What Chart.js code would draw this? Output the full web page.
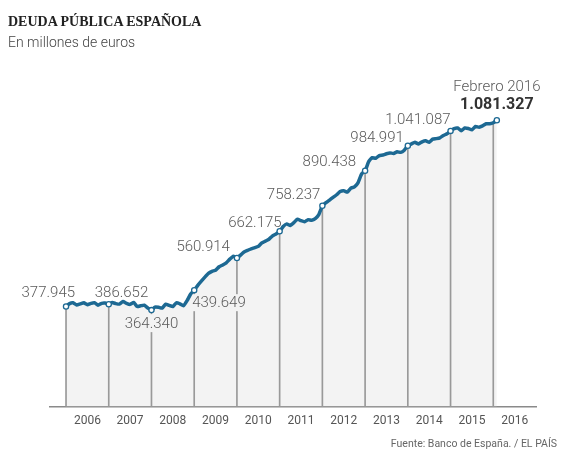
<!DOCTYPE html>
<html>
<head>
<meta charset="utf-8">
<script src="https://cdn.jsdelivr.net/npm/chart.js@4.4.1/dist/chart.umd.min.js"></script>
<style>
  body { margin: 0; background: #fff; }
  #wrap { position: relative; width: 575px; height: 467px; }
  #title { position: absolute; left: 8px; top: 14px; line-height: 18px; font: bold 14px 'Liberation Serif', serif; color: #222; }
  #subtitle { position: absolute; left: 8px; top: 34px; line-height: 18px; font: 300 14px Roboto, sans-serif; color: #444; }
  #source { position: absolute; right: 18px; top: 437px; line-height: 14px; font: 10.5px Roboto, sans-serif; color: #666; }
</style>
</head>
<body>
<div id="wrap">
  <canvas id="chart" width="575" height="467"></canvas>
  <div id="title">DEUDA PÚBLICA ESPAÑOLA</div>
  <div id="subtitle">En millones de euros</div>
  <div id="source">Fuente: Banco de España. / EL PAÍS</div>
</div>
<script>
// monthly debt, millions of euros, Jan 2006 .. Feb 2016
const debt = [
  377945, 389000, 392000, 384000, 388000, 392000, 385000, 390000, 392000, 383000, 390000, 391000,
  386652, 393000, 389000, 387000, 397000, 390000, 386000, 393000, 378000, 381000, 383000, 372000,
  364340, 376000, 375000, 372000, 387000, 382000, 378000, 392000, 388000, 381000, 400000, 425000,
  439649, 458000, 474000, 489000, 503000, 511000, 515000, 528000, 535000, 543000, 557000, 568000,
  560914, 572000, 584000, 590000, 596000, 600000, 605000, 618000, 625000, 632000, 645000, 652000,
  662175, 680000, 690000, 684000, 695000, 708000, 702000, 698000, 706000, 704000, 710000, 725000,
  758237, 770000, 780000, 790000, 800000, 812000, 815000, 810000, 825000, 830000, 845000, 878000,
  890438, 925000, 940000, 938000, 948000, 950000, 955000, 958000, 956000, 962000, 960000, 968000,
  984991, 992000, 998000, 992000, 1000000, 1004000, 998000, 1010000, 1012000, 1015000, 1024000, 1030000,
  1041087, 1050000, 1052000, 1042000, 1052000, 1050000, 1045000, 1058000, 1055000, 1060000, 1068000, 1068000,
  1072000, 1081327
];
const years = ['2006', '2007', '2008', '2009', '2010', '2011', '2012', '2013', '2014', '2015', '2016'];
const yearIdx = [0, 12, 24, 36, 48, 60, 72, 84, 96, 108, 120];
const labelIdx = [0, 12, 24, 36, 48, 60, 72, 84, 96, 108, 121];
const lastLabel = 'Febrero 2016';

// where each value label sits relative to its point
const labelPlace = [
  { align: 'right', dx: 9, dy: -15 },
  { align: 'left', dx: -14, dy: -13 },
  { align: 'center', dx: 0, dy: 12, box: true },
  { align: 'left', dx: -2, dy: 11, box: true },
  { align: 'right', dx: -7, dy: -12 },
  { align: 'right', dx: 2, dy: -10 },
  { align: 'right', dx: -2, dy: -12 },
  { align: 'right', dx: -9, dy: -10 },
  { align: 'right', dx: -4, dy: -9 },
  { align: 'right', dx: 0, dy: -12 },
  { align: 'center', dx: 0, dy: -17, bold: true }
];

const BLUE = '#1d6993';
const FILL = '#f3f3f3';
const fmt = v => String(v).replace(/\B(?=(\d{3})+(?!\d))/g, '.');

const valueLabels = {
  id: 'valueLabels',
  afterDatasetDraw(chart, args) {
    if (args.index !== 1) return;
    // cut the year lines under labels that sit below the curve
    const ctx = chart.ctx, meta = chart.getDatasetMeta(0);
    ctx.save();
    ctx.font = '300 15px Roboto';
    labelIdx.forEach((idx, k) => {
      const p = labelPlace[k];
      if (!p.box) return;
      const pt = meta.data[idx];
      const w = ctx.measureText(fmt(debt[idx])).width;
      let x0 = pt.x + p.dx;
      if (p.align === 'center') x0 -= w / 2;
      if (p.align === 'right') x0 -= w;
      ctx.fillStyle = FILL;
      ctx.fillRect(x0 - 3, pt.y + 4, w + 6, p.dy + 6);
    });
    ctx.restore();
  },
  afterDatasetsDraw(chart) {
    const ctx = chart.ctx, meta = chart.getDatasetMeta(0);
    ctx.save();
    ctx.textBaseline = 'alphabetic';
    labelIdx.forEach((idx, k) => {
      const p = labelPlace[k];
      const pt = meta.data[idx];
      ctx.textAlign = p.align;
      ctx.fillStyle = p.bold ? '#333' : '#5a5a5a';
      ctx.font = p.bold ? 'bold 16px Roboto' : '300 15px Roboto';
      const size = p.bold ? 16 : 15;
      ctx.fillText(fmt(debt[idx]), pt.x + p.dx, pt.y + p.dy + size * 0.36);
      if (p.bold) {
        ctx.font = '300 15px Roboto';
        ctx.fillStyle = '#5a5a5a';
        ctx.fillText(lastLabel, pt.x + p.dx, pt.y - 35 + 15 * 0.36);
      }
    });
    ctx.restore();
  }
};

new Chart(document.getElementById('chart'), {
  type: 'line',
  data: {
    datasets: [
      {
        type: 'line',
        data: debt.map((v, i) => ({ x: i, y: v })),
        borderColor: BLUE,
        borderWidth: 3.5,
        tension: 0.15,
        borderJoinStyle: 'round',
        borderCapStyle: 'round',
        fill: 'origin',
        backgroundColor: FILL,
        pointRadius: debt.map((v, i) => labelIdx.includes(i) ? 2.6 : 0),
        pointBackgroundColor: '#fff',
        pointBorderColor: BLUE,
        pointBorderWidth: 1.3,
        order: 1
      },
      {
        type: 'bar',
        data: yearIdx.map(i => ({ x: i, y: debt[i] })),
        backgroundColor: '#999',
        barThickness: 1,
        order: 2
      }
    ]
  },
  options: {
    responsive: false,
    animation: false,
    layout: { padding: { left: 50, right: 39, top: 92, bottom: 32 } },
    plugins: {
      legend: { display: false },
      tooltip: { enabled: false },
      filler: { drawTime: 'beforeDatasetsDraw' }
    },
    scales: {
      x: {
        type: 'linear',
        offset: false,
        min: -4.5,
        max: 132,
        grid: { display: false, drawTicks: false },
        border: { display: true, color: '#8a8a8a', width: 1.5 },
        afterBuildTicks: s => { s.ticks = years.map((y, i) => ({ value: yearIdx[i] + 6 })); },
        ticks: {
          padding: 7,
          autoSkip: false,
          maxRotation: 0,
          color: '#555',
          font: { family: 'Roboto', size: 12 },
          callback: (v, i) => years[i]
        }
      },
      y: { display: false, min: 0, max: 1188000 }
    }
  },
  plugins: [valueLabels]
});
</script>
</body>
</html>
